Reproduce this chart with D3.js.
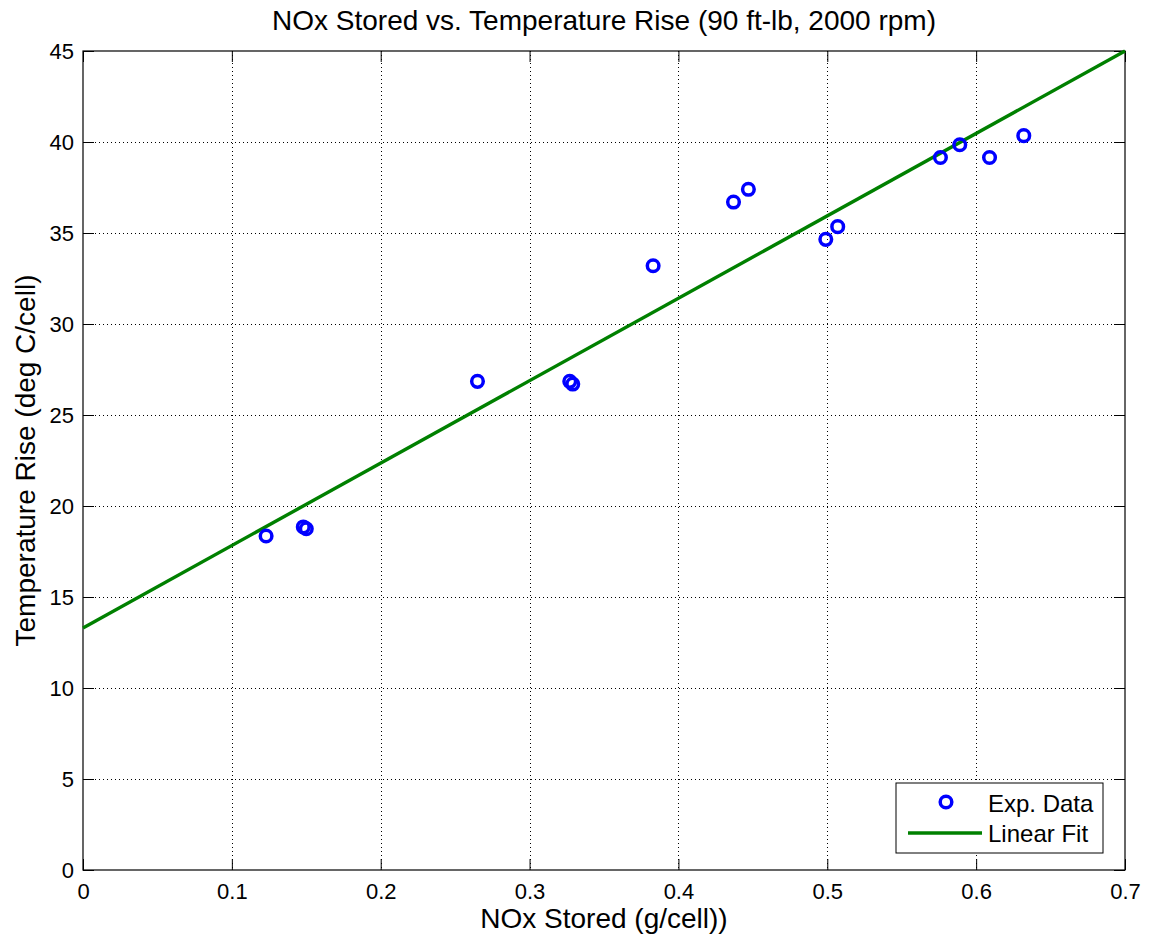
<!DOCTYPE html>
<html>
<head>
<meta charset="utf-8">
<script src="https://cdn.jsdelivr.net/npm/d3@7"></script>
<style>
  html, body { margin: 0; padding: 0; background: #fff; }
  svg text { font-family: "Liberation Sans", Arial, Helvetica, sans-serif; fill: #000; }
</style>
</head>
<body>
<svg id="chart" width="1154" height="935"></svg>
<script>
// ---- data ----
const noxStored = [0.123, 0.148, 0.150, 0.265, 0.327, 0.329, 0.383, 0.437, 0.447, 0.499, 0.507, 0.576, 0.589, 0.609, 0.632];
const tempRise  = [18.35, 18.85, 18.75, 26.85, 26.85, 26.7, 33.2, 36.7, 37.4, 34.65, 35.35, 39.15, 39.85, 39.15, 40.35];
const fitX = [0, 0.7];
const fitY = [13.3, 45.0];
const xTicks = [0, 0.1, 0.2, 0.3, 0.4, 0.5, 0.6, 0.7];
const yTicks = [0, 5, 10, 15, 20, 25, 30, 35, 40, 45];
const titleText = "NOx Stored vs. Temperature Rise (90 ft-lb, 2000 rpm)";
const xLabelText = "NOx Stored (g/cell))";
const yLabelText = "Temperature Rise (deg C/cell)";
const legendLabels = ["Exp. Data", "Linear Fit"];

// ---- layout ----
const L = 83, R = 1125, T = 51, B = 870;
const svg = d3.select("#chart");
const x = d3.scaleLinear().domain([0, 0.7]).range([L, R]);
const y = d3.scaleLinear().domain([0, 45]).range([B, T]);

// grid
const grid = svg.append("g");
grid.selectAll("line.gx").data(xTicks.slice(1, -1)).join("line")
  .attr("x1", d => Math.round(x(d)) + 0.5).attr("x2", d => Math.round(x(d)) + 0.5)
  .attr("y1", T).attr("y2", B)
  .attr("stroke", "#000").attr("stroke-width", 1).attr("stroke-dasharray", "1,3");
grid.selectAll("line.gy").data(yTicks.slice(1, -1)).join("line")
  .attr("y1", d => Math.round(y(d)) + 0.5).attr("y2", d => Math.round(y(d)) + 0.5)
  .attr("x1", L).attr("x2", R)
  .attr("stroke", "#000").attr("stroke-width", 1).attr("stroke-dasharray", "1,3");

// axes
const tickLen = 11;
const fmtX = d => d === 0 ? "0" : d3.format(".1f")(d);
const axB = svg.append("g").attr("transform", `translate(0,${B})`)
  .call(d3.axisBottom(x).tickValues(xTicks).tickFormat(fmtX).tickSizeInner(-tickLen).tickSizeOuter(0).tickPadding(13));
const axT = svg.append("g").attr("transform", `translate(0,${T})`)
  .call(d3.axisTop(x).tickValues(xTicks).tickFormat("").tickSizeInner(-tickLen).tickSizeOuter(0));
const axL = svg.append("g").attr("transform", `translate(${L},0)`)
  .call(d3.axisLeft(y).tickValues(yTicks).tickSizeInner(-tickLen).tickSizeOuter(0).tickPadding(9));
const axR = svg.append("g").attr("transform", `translate(${R},0)`)
  .call(d3.axisRight(y).tickValues(yTicks).tickFormat("").tickSizeInner(-tickLen).tickSizeOuter(0));
[axB, axT, axL, axR].forEach(a => {
  a.select(".domain").remove();
  a.selectAll("line").attr("stroke", "#000");
  a.selectAll("text").style("font-size", "22px").attr("fill", "#000");
});

// frame
svg.append("rect").attr("x", L).attr("y", T).attr("width", R - L).attr("height", B - T)
  .attr("fill", "none").attr("stroke", "#000").attr("stroke-width", 1.2);

// fit line
const line = d3.line().x(d => x(d[0])).y(d => y(d[1]));
svg.append("path").datum(d3.zip(fitX, fitY)).attr("d", line)
  .attr("fill", "none").attr("stroke", "#008000").attr("stroke-width", 3.4);

// points
svg.append("g").selectAll("circle").data(d3.zip(noxStored, tempRise)).join("circle")
  .attr("cx", d => x(d[0])).attr("cy", d => y(d[1])).attr("r", 5.8)
  .attr("fill", "none").attr("stroke", "#0000ff").attr("stroke-width", 3.5);

// title & labels
svg.append("text").attr("x", (L + R) / 2).attr("y", 30).attr("text-anchor", "middle")
  .style("font-size", "28px").text(titleText);
svg.append("text").attr("x", (L + R) / 2).attr("y", 928).attr("text-anchor", "middle")
  .style("font-size", "28px").text(xLabelText);
svg.append("text").attr("transform", `translate(35,${(T + B) / 2}) rotate(-90)`).attr("text-anchor", "middle")
  .style("font-size", "28px").text(yLabelText);

// legend
const lg = svg.append("g");
lg.append("rect").attr("x", 896).attr("y", 783).attr("width", 207).attr("height", 70)
  .attr("fill", "#fff").attr("stroke", "#000").attr("stroke-width", 1);
lg.append("circle").attr("cx", 946).attr("cy", 802).attr("r", 5.8)
  .attr("fill", "none").attr("stroke", "#0000ff").attr("stroke-width", 3.5);
lg.append("line").attr("x1", 908).attr("x2", 982).attr("y1", 833).attr("y2", 833)
  .attr("stroke", "#008000").attr("stroke-width", 3.4);
lg.selectAll("text").data(legendLabels).join("text")
  .attr("x", 988).attr("y", (d, i) => 812 + i * 30)
  .style("font-size", "24px").text(d => d);
</script>
</body>
</html>
